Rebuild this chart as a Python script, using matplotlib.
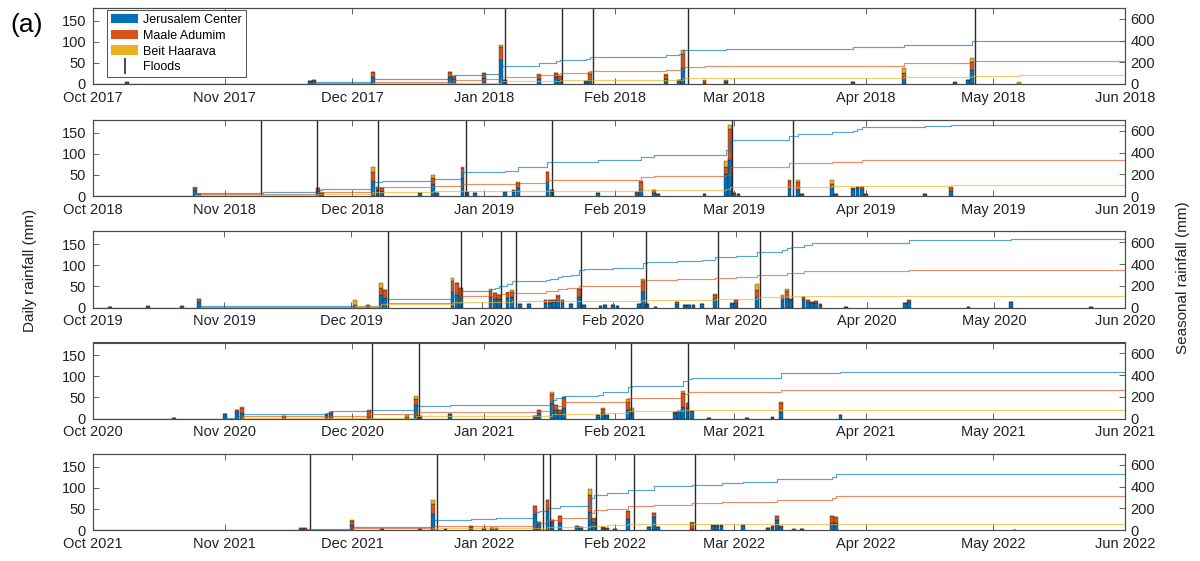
import matplotlib
matplotlib.use('Agg')
import matplotlib.pyplot as plt
import matplotlib.dates as mdates
import numpy as np
import pandas as pd
from matplotlib.patches import Patch
from matplotlib.lines import Line2D

plt.rcParams['font.family'] = ['Liberation Sans', 'DejaVu Sans']

BLUE = '#0072BD'
ORANGE = '#D95319'
YELLOW = '#EDB120'

stations = ["Jerusalem Center", "Maale Adumim", "Beit Haarava"]

# daily rainfall (date, Jerusalem, Maale Adumim, Beit Haarava) in mm
rain_1718 = [
    ("2017-10-09", 3, 1, 1), ("2017-11-21", 6, 2, 0), ("2017-11-22", 7, 3, 0),
    ("2017-12-06", 16, 12, 1), ("2017-12-24", 17, 11, 1), ("2017-12-25", 12, 5, 2),
    ("2018-01-01", 15, 10, 2), ("2018-01-05", 57, 31, 4), ("2018-01-06", 7, 3, 0),
    ("2018-01-14", 12, 10, 2), ("2018-01-18", 16, 9, 2), ("2018-01-19", 10, 8, 1),
    ("2018-01-25", 5, 3, 0), ("2018-01-26", 9, 15, 5), ("2018-02-13", 12, 10, 2),
    ("2018-02-16", 6, 4, 0), ("2018-02-17", 38, 33, 10), ("2018-02-22", 3, 4, 3),
    ("2018-02-27", 4, 3, 3), ("2018-03-29", 5, 0, 0), ("2018-04-10", 14, 13, 10),
    ("2018-04-22", 3, 1, 1), ("2018-04-25", 9, 0, 0), ("2018-04-26", 33, 20, 9),
    ("2018-05-07", 0, 1, 3),
]
rain_1819 = [
    ("2018-10-25", 15, 4, 3), ("2018-10-26", 4, 1, 0), ("2018-11-23", 12, 7, 1),
    ("2018-11-24", 5, 2, 0), ("2018-12-06", 36, 22, 10), ("2018-12-07", 14, 7, 1),
    ("2018-12-08", 12, 8, 0), ("2018-12-17", 8, 0, 0), ("2018-12-20", 28, 14, 8),
    ("2018-12-21", 6, 2, 0), ("2018-12-27", 42, 24, 2), ("2018-12-28", 7, 3, 0),
    ("2018-12-30", 8, 0, 0), ("2019-01-06", 10, 0, 0), ("2019-01-08", 10, 5, 0),
    ("2019-01-09", 18, 12, 2), ("2019-01-16", 34, 22, 2), ("2019-01-17", 10, 5, 0),
    ("2019-01-28", 8, 0, 0), ("2019-02-06", 7, 3, 0), ("2019-02-07", 15, 17, 3),
    ("2019-02-10", 8, 6, 1), ("2019-02-11", 4, 0, 0), ("2019-02-22", 4, 0, 0),
    ("2019-02-27", 52, 16, 15), ("2019-02-28", 85, 73, 10), ("2019-03-01", 6, 2, 0),
    ("2019-03-02", 4, 0, 0), ("2019-03-14", 18, 17, 2), ("2019-03-16", 14, 20, 3),
    ("2019-03-17", 5, 0, 0), ("2019-03-24", 18, 10, 9), ("2019-03-25", 5, 0, 0),
    ("2019-03-29", 16, 4, 0), ("2019-03-30", 18, 3, 0), ("2019-03-31", 17, 4, 0),
    ("2019-04-01", 4, 0, 0), ("2019-04-15", 4, 1, 0), ("2019-04-21", 12, 8, 2),
]
rain_1920 = [
    ("2019-10-05", 1, 1, 0), ("2019-10-14", 1, 3, 0), ("2019-10-22", 2, 1, 0),
    ("2019-10-26", 13, 6, 2), ("2019-12-02", 2, 3, 12), ("2019-12-05", 3, 2, 0),
    ("2019-12-08", 29, 17, 11), ("2019-12-09", 22, 20, 0), ("2019-12-25", 37, 25, 7),
    ("2019-12-26", 30, 27, 0), ("2019-12-27", 25, 21, 0), ("2020-01-03", 25, 15, 3),
    ("2020-01-04", 20, 15, 0), ("2020-01-05", 20, 10, 0), ("2020-01-07", 22, 12, 3),
    ("2020-01-08", 25, 12, 5), ("2020-01-10", 8, 0, 0), ("2020-01-12", 8, 0, 0),
    ("2020-01-16", 10, 7, 1), ("2020-01-17", 10, 8, 0), ("2020-01-18", 12, 6, 0),
    ("2020-01-19", 15, 13, 2), ("2020-01-20", 12, 6, 0), ("2020-01-22", 8, 1, 0),
    ("2020-01-24", 25, 18, 2), ("2020-01-25", 6, 0, 0), ("2020-01-29", 4, 0, 0),
    ("2020-01-30", 6, 0, 0), ("2020-02-01", 6, 0, 0), ("2020-02-02", 4, 0, 0),
    ("2020-02-07", 8, 1, 0), ("2020-02-08", 36, 26, 5), ("2020-02-09", 8, 0, 0),
    ("2020-02-11", 2, 0, 0), ("2020-02-16", 8, 5, 0), ("2020-02-18", 7, 0, 0),
    ("2020-02-19", 7, 0, 0), ("2020-02-20", 7, 0, 0), ("2020-02-22", 9, 0, 0),
    ("2020-02-25", 19, 10, 2), ("2020-02-29", 8, 2, 0), ("2020-03-01", 10, 7, 0),
    ("2020-03-06", 25, 17, 14), ("2020-03-12", 18, 8, 3), ("2020-03-13", 22, 18, 3),
    ("2020-03-14", 17, 3, 0), ("2020-03-17", 19, 7, 0), ("2020-03-18", 14, 4, 0),
    ("2020-03-19", 10, 2, 0), ("2020-03-20", 10, 5, 0), ("2020-03-21", 6, 2, 0),
    ("2020-03-27", 1, 1, 0), ("2020-04-10", 10, 1, 0), ("2020-04-11", 14, 3, 0),
    ("2020-04-25", 1, 1, 0), ("2020-05-05", 12, 0, 0), ("2020-05-24", 1, 0, 0),
]
rain_2021 = [
    ("2020-10-20", 1, 0, 0), ("2020-11-01", 10, 0, 0), ("2020-11-04", 15, 5, 0),
    ("2020-11-05", 13, 13, 2), ("2020-11-15", 2, 3, 0), ("2020-11-25", 8, 2, 0),
    ("2020-11-26", 10, 5, 0), ("2020-12-05", 3, 15, 2), ("2020-12-14", 2, 2, 4),
    ("2020-12-16", 32, 15, 6), ("2020-12-17", 3, 2, 0), ("2020-12-24", 10, 1, 0),
    ("2021-01-13", 5, 0, 0), ("2021-01-14", 13, 7, 0), ("2021-01-17", 37, 20, 6),
    ("2021-01-18", 20, 12, 0), ("2021-01-19", 14, 6, 0), ("2021-01-20", 25, 25, 2),
    ("2021-01-28", 8, 0, 0), ("2021-01-29", 12, 11, 2), ("2021-01-30", 6, 2, 0),
    ("2021-02-04", 20, 20, 6), ("2021-02-05", 12, 6, 7), ("2021-02-15", 12, 3, 0),
    ("2021-02-16", 15, 3, 0), ("2021-02-17", 28, 32, 6), ("2021-02-18", 25, 11, 0),
    ("2021-02-19", 18, 0, 0), ("2021-02-23", 1, 1, 0), ("2021-03-04", 2, 0, 0),
    ("2021-03-10", 2, 1, 0), ("2021-03-12", 16, 20, 3), ("2021-03-26", 8, 0, 0),
]
rain_2122 = [
    ("2021-11-19", 3, 1, 0), ("2021-11-20", 3, 2, 0), ("2021-12-01", 12, 10, 2),
    ("2021-12-08", 2, 1, 0), ("2021-12-17", 2, 1, 0), ("2021-12-20", 37, 25, 10),
    ("2021-12-23", 2, 0, 0), ("2021-12-29", 6, 4, 0), ("2022-01-01", 3, 1, 0),
    ("2022-01-03", 4, 1, 0), ("2022-01-04", 3, 2, 0), ("2022-01-13", 38, 18, 2),
    ("2022-01-14", 15, 5, 0), ("2022-01-16", 45, 25, 2), ("2022-01-17", 18, 6, 0),
    ("2022-01-19", 17, 16, 1), ("2022-01-23", 6, 3, 0), ("2022-01-24", 5, 2, 0),
    ("2022-01-26", 43, 40, 15), ("2022-01-27", 20, 7, 1), ("2022-01-29", 5, 2, 0),
    ("2022-01-30", 3, 1, 0), ("2022-02-01", 2, 1, 0), ("2022-02-04", 26, 18, 2),
    ("2022-02-09", 6, 2, 0), ("2022-02-10", 30, 10, 0), ("2022-02-11", 6, 2, 0),
    ("2022-02-19", 2, 15, 2), ("2022-02-24", 10, 3, 0), ("2022-02-25", 10, 3, 0),
    ("2022-02-26", 10, 2, 0), ("2022-03-03", 10, 3, 0), ("2022-03-09", 4, 1, 0),
    ("2022-03-10", 8, 2, 0), ("2022-03-11", 23, 9, 1), ("2022-03-12", 8, 1, 0),
    ("2022-03-15", 1, 1, 0), ("2022-03-17", 2, 0, 0), ("2022-03-24", 16, 16, 2),
    ("2022-03-25", 16, 14, 0), ("2022-05-06", 0, 1, 0),
]

# flood events
floods_1718 = ["2018-01-05 22:00", "2018-01-19 10:00", "2018-01-26 19:00",
               "2018-02-18 05:00", "2018-04-26 19:00"]
floods_1819 = ["2018-11-09 14:00", "2018-11-22 19:00", "2018-12-07 05:00",
               "2018-12-27 19:00", "2019-01-17 02:00", "2019-02-28 12:00",
               "2019-03-14 19:00"]
floods_1920 = ["2019-12-09 17:00", "2019-12-27 02:00", "2020-01-05 10:00",
               "2020-01-09 00:00", "2020-01-24 10:00", "2020-02-08 19:00",
               "2020-02-25 19:00", "2020-03-06 19:00", "2020-03-14 05:00"]
floods_2021 = ["2020-12-05 19:00", "2020-12-16 17:00", "2021-02-04 19:00",
               "2021-02-18 05:00"]
floods_2122 = ["2021-11-21 00:00", "2021-12-21 00:00", "2022-01-14 22:00",
               "2022-01-16 17:00", "2022-01-27 10:00", "2022-02-05 10:00",
               "2022-02-19 19:00"]

# seasonal (cumulative) rainfall, value holds from the date on
jer_1718 = [("2017-10-01", 0), ("2017-10-09", 3), ("2017-11-21", 12), ("2017-11-22", 21),
            ("2017-12-06", 43), ("2017-12-24", 70), ("2017-12-25", 83), ("2018-01-01", 90),
            ("2018-01-05", 165), ("2018-01-06", 169), ("2018-01-14", 190), ("2018-01-18", 210),
            ("2018-01-19", 221), ("2018-01-25", 226), ("2018-01-26", 252), ("2018-02-13", 267),
            ("2018-02-16", 272), ("2018-02-17", 313), ("2018-02-27", 319), ("2018-03-29", 338),
            ("2018-04-10", 356), ("2018-04-25", 362), ("2018-04-26", 399), ("2018-06-01", 405)]
maale_1718 = [("2017-10-01", 0), ("2017-11-22", 8), ("2017-12-06", 21), ("2017-12-24", 30),
              ("2017-12-25", 37), ("2018-01-01", 45), ("2018-01-05", 67), ("2018-01-14", 83),
              ("2018-01-18", 95), ("2018-01-19", 104), ("2018-01-26", 120), ("2018-02-13", 129),
              ("2018-02-17", 160), ("2018-02-22", 164), ("2018-02-27", 170), ("2018-04-10", 190),
              ("2018-04-26", 209), ("2018-06-01", 211)]
beit_1718 = [("2017-10-01", 0), ("2017-12-06", 5), ("2017-12-25", 12), ("2018-01-05", 25),
             ("2018-01-19", 33), ("2018-01-26", 40), ("2018-02-17", 52), ("2018-02-27", 56),
             ("2018-04-10", 66), ("2018-04-26", 75), ("2018-05-07", 80), ("2018-06-01", 81)]

jer_1819 = [("2018-10-01", 0), ("2018-10-25", 25), ("2018-11-10", 35), ("2018-11-23", 55),
            ("2018-11-24", 61), ("2018-12-06", 132), ("2018-12-08", 138), ("2018-12-20", 160),
            ("2018-12-27", 224), ("2019-01-06", 233), ("2019-01-09", 270), ("2019-01-16", 310),
            ("2019-01-17", 316), ("2019-01-28", 328), ("2019-02-07", 361), ("2019-02-10", 376),
            ("2019-02-22", 382), ("2019-02-27", 422), ("2019-02-28", 514), ("2019-03-01", 520),
            ("2019-03-14", 553), ("2019-03-16", 569), ("2019-03-24", 590), ("2019-03-29", 600),
            ("2019-03-30", 615), ("2019-03-31", 636), ("2019-04-15", 642), ("2019-04-21", 654),
            ("2019-06-01", 656)]
maale_1819 = [("2018-10-01", 0), ("2018-10-25", 15), ("2018-11-23", 35), ("2018-12-06", 80),
              ("2018-12-20", 92), ("2018-12-27", 110), ("2019-01-09", 123), ("2019-01-16", 150),
              ("2019-02-07", 177), ("2019-02-10", 180), ("2019-02-27", 195), ("2019-02-28", 269),
              ("2019-03-14", 300), ("2019-03-16", 308), ("2019-03-24", 315), ("2019-03-31", 330),
              ("2019-04-21", 336), ("2019-06-01", 337)]
beit_1819 = [("2018-10-01", 0), ("2018-10-25", 8), ("2018-11-23", 15), ("2018-12-06", 40),
             ("2018-12-20", 46), ("2019-01-16", 50), ("2019-02-07", 52), ("2019-02-27", 65),
             ("2019-02-28", 80), ("2019-03-14", 86), ("2019-03-24", 92), ("2019-04-21", 98),
             ("2019-06-01", 98)]

jer_1920 = [("2019-10-01", 0), ("2019-10-26", 12), ("2019-12-02", 15), ("2019-12-05", 18),
            ("2019-12-08", 45), ("2019-12-09", 74), ("2019-12-25", 110), ("2019-12-26", 135),
            ("2019-12-27", 153), ("2020-01-03", 170), ("2020-01-04", 183), ("2020-01-05", 196),
            ("2020-01-07", 220), ("2020-01-08", 241), ("2020-01-10", 243), ("2020-01-12", 245),
            ("2020-01-16", 250), ("2020-01-17", 258), ("2020-01-18", 266), ("2020-01-19", 280),
            ("2020-01-20", 290), ("2020-01-22", 300), ("2020-01-24", 345), ("2020-01-25", 355),
            ("2020-02-01", 360), ("2020-02-07", 365), ("2020-02-08", 410), ("2020-02-09", 415),
            ("2020-02-16", 425), ("2020-02-22", 433), ("2020-02-25", 461), ("2020-03-01", 470),
            ("2020-03-06", 511), ("2020-03-12", 528), ("2020-03-13", 548), ("2020-03-14", 555),
            ("2020-03-17", 575), ("2020-03-19", 590), ("2020-03-21", 596), ("2020-04-11", 619),
            ("2020-05-05", 635), ("2020-06-01", 638)]
maale_1920 = [("2019-10-01", 0), ("2019-10-26", 5), ("2019-12-09", 37), ("2019-12-27", 104),
              ("2020-01-05", 125), ("2020-01-08", 138), ("2020-01-16", 150), ("2020-01-19", 170),
              ("2020-01-21", 178), ("2020-01-24", 200), ("2020-02-08", 254), ("2020-02-16", 258),
              ("2020-02-25", 272), ("2020-03-01", 278), ("2020-03-06", 300), ("2020-03-13", 322),
              ("2020-03-17", 333), ("2020-03-20", 340), ("2020-04-11", 346), ("2020-06-01", 352)]
beit_1920 = [("2019-10-01", 0), ("2019-12-02", 15), ("2019-12-08", 30), ("2019-12-25", 50),
             ("2020-01-08", 58), ("2020-01-24", 62), ("2020-02-08", 72), ("2020-02-25", 80),
             ("2020-03-06", 99), ("2020-03-13", 105), ("2020-06-01", 110)]

jer_2021 = [("2020-10-01", 0), ("2020-11-01", 8), ("2020-11-04", 20), ("2020-11-05", 37),
            ("2020-11-15", 45), ("2020-11-25", 55), ("2020-11-26", 69), ("2020-12-05", 79),
            ("2020-12-16", 117), ("2020-12-24", 120), ("2021-01-14", 126), ("2021-01-17", 170),
            ("2021-01-18", 185), ("2021-01-20", 205), ("2021-01-28", 221), ("2021-01-29", 240),
            ("2021-02-04", 290), ("2021-02-05", 295), ("2021-02-15", 301), ("2021-02-17", 345),
            ("2021-02-18", 365), ("2021-02-19", 373), ("2021-03-12", 419), ("2021-03-26", 425),
            ("2021-06-01", 425)]
maale_2021 = [("2020-10-01", 0), ("2020-11-05", 22), ("2020-12-05", 41), ("2020-12-16", 63),
              ("2021-01-14", 69), ("2021-01-17", 117), ("2021-01-20", 148), ("2021-01-29", 155),
              ("2021-02-04", 186), ("2021-02-17", 230), ("2021-02-18", 248), ("2021-03-12", 264),
              ("2021-06-01", 270)]
beit_2021 = [("2020-10-01", 0), ("2020-11-05", 3), ("2020-12-16", 22), ("2021-01-17", 45),
             ("2021-01-29", 53), ("2021-02-04", 68), ("2021-02-17", 78), ("2021-06-01", 80)]

jer_2122 = [("2021-10-01", 0), ("2021-11-20", 5), ("2021-12-01", 25), ("2021-12-08", 28),
            ("2021-12-17", 31), ("2021-12-20", 92), ("2021-12-29", 103), ("2022-01-04", 115),
            ("2022-01-13", 170), ("2022-01-14", 178), ("2022-01-16", 203), ("2022-01-19", 219),
            ("2022-01-24", 225), ("2022-01-26", 297), ("2022-01-27", 320), ("2022-01-30", 340),
            ("2022-02-04", 370), ("2022-02-10", 409), ("2022-02-19", 412), ("2022-02-26", 430),
            ("2022-03-03", 439), ("2022-03-11", 470), ("2022-03-24", 490), ("2022-03-25", 515),
            ("2022-06-01", 515)]
maale_2122 = [("2021-10-01", 0), ("2021-11-20", 2), ("2021-12-01", 15), ("2021-12-20", 37),
              ("2022-01-13", 62), ("2022-01-16", 94), ("2022-01-19", 109), ("2022-01-26", 156),
              ("2022-01-27", 180), ("2022-01-30", 197), ("2022-02-04", 218), ("2022-02-10", 227),
              ("2022-02-19", 248), ("2022-02-26", 258), ("2022-03-11", 279), ("2022-03-24", 295),
              ("2022-03-25", 309), ("2022-06-01", 309)]
beit_2122 = [("2021-10-01", 0), ("2021-12-01", 3), ("2021-12-20", 16), ("2022-01-16", 25),
             ("2022-01-26", 37), ("2022-01-30", 45), ("2022-02-04", 55), ("2022-06-01", 57)]

seasons = [
    (2017, rain_1718, floods_1718, jer_1718, maale_1718, beit_1718),
    (2018, rain_1819, floods_1819, jer_1819, maale_1819, beit_1819),
    (2019, rain_1920, floods_1920, jer_1920, maale_1920, beit_1920),
    (2020, rain_2021, floods_2021, jer_2021, maale_2021, beit_2021),
    (2021, rain_2122, floods_2122, jer_2122, maale_2122, beit_2122),
]


def dnum(strings):
    return mdates.date2num(pd.to_datetime(strings).to_numpy())


fig = plt.figure(figsize=(12, 5.61), dpi=100)
bottoms_px = [84, 196, 307.5, 418.5, 530]
SPINE = '#4a4a4a'

for k, (yr, rain, floods, cj, cm, cb) in enumerate(seasons):
    ax = fig.add_axes([93 / 1200, 1 - bottoms_px[k] / 561, 1032 / 1200, 76 / 561])
    d = dnum([r[0] for r in rain])
    j = np.array([r[1] for r in rain], float)
    m = np.array([r[2] for r in rain], float)
    b = np.array([r[3] for r in rain], float)
    kw = dict(width=0.9, edgecolor='#1a1a1a', linewidth=0.25)
    ax.bar(d, j, color=BLUE, **kw)
    ax.bar(d, m, bottom=j, color=ORANGE, **kw)
    ax.bar(d, b, bottom=j + m, color=YELLOW, **kw)
    for f in dnum(floods):
        ax.axvline(f, color='#2b2b2b', lw=1.0)

    ax2 = ax.twinx()
    for cum, c in ((cj, BLUE), (cm, ORANGE), (cb, YELLOW)):
        ax2.plot(dnum([p[0] for p in cum]), [p[1] for p in cum],
                 drawstyle='steps-post', color=c, lw=0.85, alpha=0.65)

    x0, x1 = dnum([f"{yr}-10-01", f"{yr + 1}-06-01"])
    ax.set_xlim(x0, x1)
    ax.set_ylim(0, 180)
    ax.set_yticks([0, 50, 100, 150])
    ax2.set_ylim(0, 700)
    ax2.set_yticks([0, 200, 400, 600])
    ax.xaxis.set_major_locator(mdates.MonthLocator())
    ax.xaxis.set_major_formatter(mdates.DateFormatter('%b %Y'))
    ax.tick_params(axis='x', direction='in', length=4, width=0.6, top=True,
                   labelsize=10.5, pad=5, color=SPINE, labelcolor='#222222')
    ax.tick_params(axis='y', direction='in', length=4, width=0.6,
                   labelsize=10.5, pad=5, color=SPINE, labelcolor='#222222')
    ax2.tick_params(axis='y', direction='in', length=4, width=0.6,
                    labelsize=10.5, pad=4, color=SPINE, labelcolor='#222222')
    for a in (ax, ax2):
        for s in a.spines.values():
            s.set_color(SPINE)
            s.set_linewidth(0.8)

    if k == 0:
        handles = [Patch(facecolor=BLUE, edgecolor='none'),
                   Patch(facecolor=ORANGE, edgecolor='none'),
                   Patch(facecolor=YELLOW, edgecolor='none'),
                   Line2D([], [], color='#2b2b2b', marker='|', linestyle='None',
                          markersize=11, markeredgewidth=1.2)]
        leg = ax2.legend(handles, stations + ["Floods"], loc='upper left',
                         bbox_to_anchor=(0.0136, 0.975), borderaxespad=0,
                         fontsize=9, labelspacing=0.3, handlelength=2.2,
                         handleheight=0.8, handletextpad=0.4, borderpad=0.3,
                         fancybox=False, framealpha=1, edgecolor='#333333')
        leg.get_frame().set_linewidth(0.6)

fig.text(30 / 1200, 1 - 270 / 561, "Daily rainfall (mm)", rotation=90,
         ha='center', va='center', fontsize=11, color='#222222')
fig.text(1183 / 1200, 1 - 278 / 561, "Seasonal rainfall (mm)", rotation=90,
         ha='center', va='center', fontsize=11, color='#222222')
fig.text(27 / 1200, 1 - 25 / 561, "(a)", ha='center', va='center', fontsize=19)

fig.savefig("out.png", dpi=100)
